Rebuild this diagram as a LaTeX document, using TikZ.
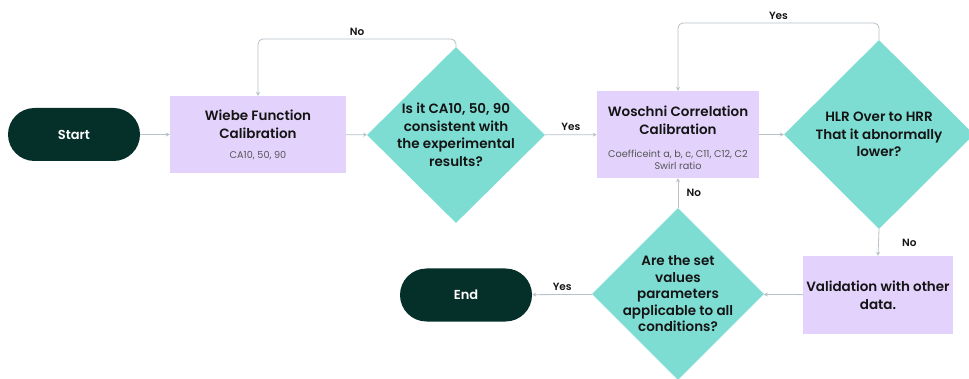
\documentclass[tikz,border=0pt]{standalone}
\usepackage{fontspec}
\setmainfont{Poppins}[BoldFont={Poppins SemiBold}]
\usetikzlibrary{arrows.meta,shapes.geometric,positioning}

\definecolor{darkbg}{HTML}{05302A}
\definecolor{lilac}{HTML}{E3D3FC}
\definecolor{aqua}{HTML}{7EDDD3}
\definecolor{wire}{HTML}{B7C1C7}
\definecolor{ink}{HTML}{141414}
\definecolor{subink}{HTML}{555555}

\newcommand{\subtxt}[1]{{\mdseries\fontsize{9.7}{12}\selectfont\color{subink}#1}}

\tikzset{
  terminal/.style={rectangle, rounded corners=26.5pt, fill=darkbg, text=white,
    font=\bfseries\fontsize{13}{15}\selectfont, minimum width=132pt, minimum height=53pt},
  process/.style={rectangle, fill=lilac, text=ink, align=center, inner sep=0pt,
    font=\bfseries\fontsize{13.5}{18}\selectfont},
  decision/.style={diamond, fill=aqua, inner sep=0pt},
  question/.style={text=ink, align=center, inner sep=0pt,
    font=\bfseries\fontsize{13.5}{17.5}\selectfont},
  flow/.style={draw=wire, line width=0.8pt, -{Stealth[length=4pt,width=4pt]}},
  answer/.style={text=ink, font=\bfseries\fontsize{10.5}{12}\selectfont},
}

\begin{document}
\begin{tikzpicture}[x=1pt,y=-1pt]
\useasboundingbox (0,0) rectangle (969,379);

\node [terminal] (start) at (74,134.5) {Start};
\node [process, minimum width=176pt, minimum height=77pt] (wiebe) at (258,134.5)
  {Wiebe Function\\Calibration\\[2pt]\subtxt{CA10, 50, 90}};
\node [decision, minimum width=178pt, minimum height=176pt,
  label={[question]center:{Is it CA10, 50, 90\\consistent with\\the experimental\\results?}}]
  (d1) at (456,135) {};
\node [process, minimum width=162pt, minimum height=87pt] (woschni) at (678,134.5)
  {\mbox{}\\[-1pt]Woschni Correlation\\Calibration\\[5pt]\subtxt{Coefficeint a, b, c, C11, C12, C2}\\[-6pt]\subtxt{Swirl ratio}};
\node [decision, minimum width=190pt, minimum height=189pt,
  label={[question]center:{HLR Over to HRR\\That it abnormally\\lower?}}]
  (d2) at (879,134.5) {};
\node [process, minimum width=150pt, minimum height=78pt] (valid) at (878,295)
  {Validation with other\\data.};
\node [decision, minimum width=172pt, minimum height=172pt,
  label={[question, font=\bfseries\fontsize{13.5}{16.5}\selectfont]center:{Are the set\\values\\parameters\\applicable to all\\conditions?}}]
  (d3) at (678,294) {};
\node [terminal] (end) at (466,295) {End};

\coordinate (noturn) at (456,39);
\coordinate (yesturn) at (879,23);

\draw [flow] (start) -- (wiebe);
\draw [flow] (wiebe) -- (d1);
\draw [flow, rounded corners=5pt] (d1.north) -- (noturn) -| (wiebe.north)
  node [answer, pos=0.25, above] {No};
\draw [flow] (d1) -- node [answer, above] {Yes} (woschni);
\draw [flow] (woschni) -- (d2);
\draw [flow, rounded corners=5pt] (d2.north) -- (yesturn) -| (woschni.north)
  node [answer, pos=0.25, above] {Yes};
\draw [flow] (d2.south) -- node [answer, right=20pt] {No} (valid.north);
\draw [flow] (valid) -- (d3);
\draw [flow] (d3.north) -- node [answer, right=5pt] {No} (woschni.south);
\draw [flow] (d3) -- node [answer, above] {Yes} (end);
\end{tikzpicture}
\end{document}
